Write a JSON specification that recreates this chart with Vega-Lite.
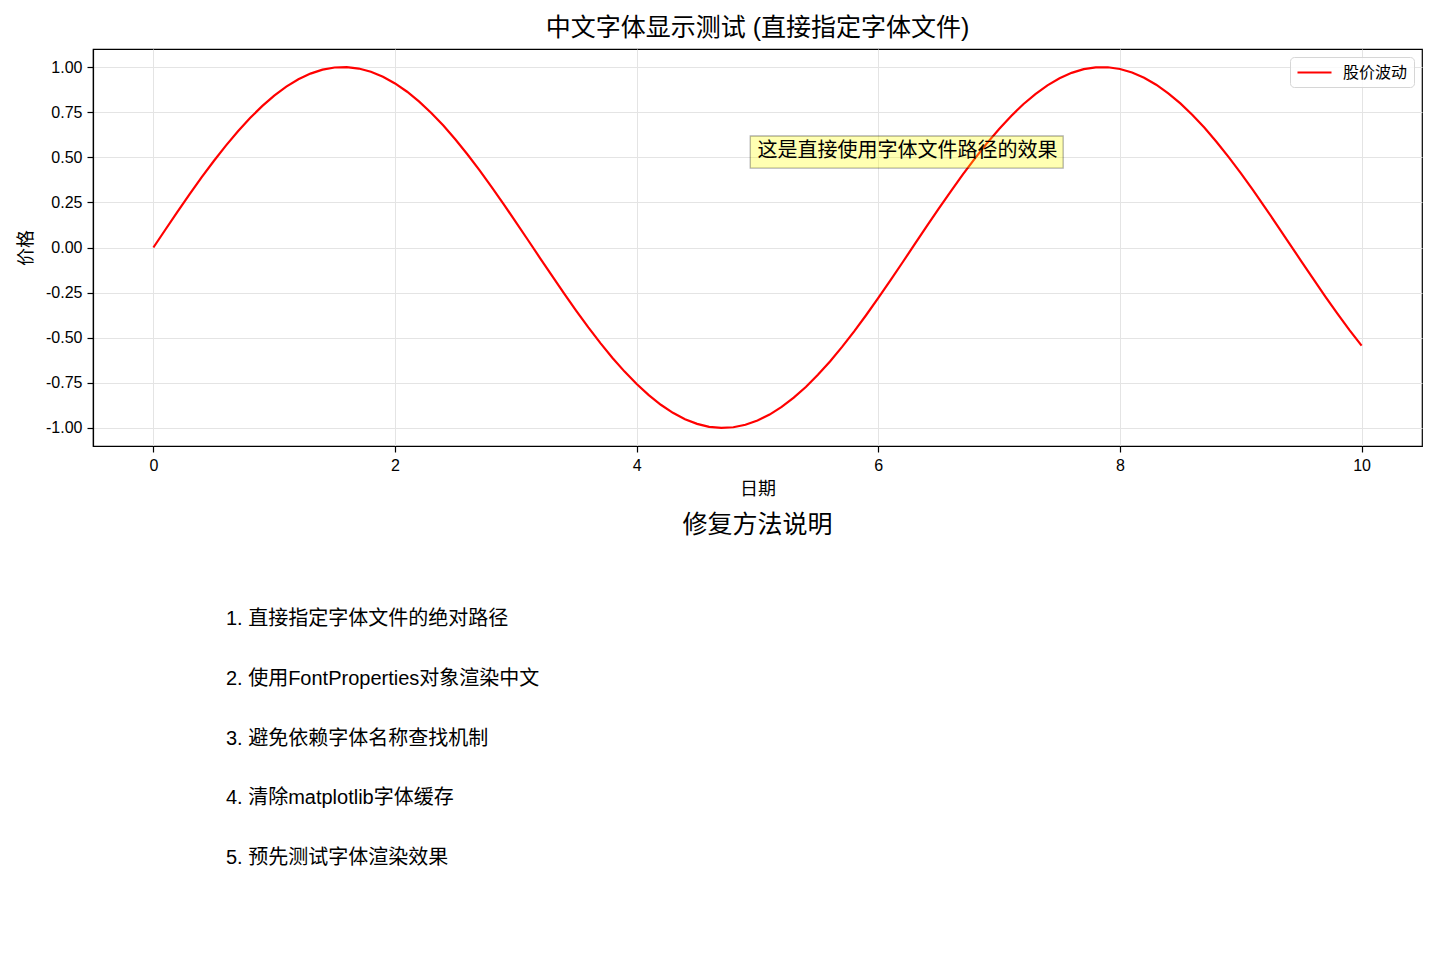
{
  "$schema": "https://vega.github.io/schema/vega-lite/v6.json",
  "background": "white",
  "padding": {"left": 16, "top": 15, "right": 5, "bottom": 5},
  "spacing": 14,
  "config": {
    "font": "Liberation Sans, Noto Sans CJK SC",
    "title": {"font": "Liberation Sans, Noto Sans CJK SC", "fontSize": 25, "fontWeight": "normal", "color": "black", "frame": "group", "anchor": "middle", "offset": 8},
    "axis": {"labelFont": "Liberation Sans, Noto Sans CJK SC", "titleFont": "Liberation Sans, Noto Sans CJK SC", "labelFontSize": 16, "labelColor": "black", "titleFontSize": 18, "titleFontWeight": "normal", "titleColor": "black", "tickColor": "black", "tickSize": 6, "tickWidth": 1.2, "labelPadding": 5, "domainColor": "black", "domainWidth": 1.2, "gridColor": "#e4e4e4", "gridWidth": 1, "titlePadding": 7},
    "axisY": {"titlePadding": 10},
    "legend": {"labelFont": "Liberation Sans, Noto Sans CJK SC", "labelFontSize": 16, "labelColor": "black"}
  },
  "datasets": {
    "wave": [
      {"x": 0.0, "y": 0.0, "s": "股价波动"},
      {"x": 0.1, "y": 0.0998, "s": "股价波动"},
      {"x": 0.2, "y": 0.1987, "s": "股价波动"},
      {"x": 0.3, "y": 0.2955, "s": "股价波动"},
      {"x": 0.4, "y": 0.3894, "s": "股价波动"},
      {"x": 0.5, "y": 0.4794, "s": "股价波动"},
      {"x": 0.6, "y": 0.5646, "s": "股价波动"},
      {"x": 0.7, "y": 0.6442, "s": "股价波动"},
      {"x": 0.8, "y": 0.7174, "s": "股价波动"},
      {"x": 0.9, "y": 0.7833, "s": "股价波动"},
      {"x": 1.0, "y": 0.8415, "s": "股价波动"},
      {"x": 1.1, "y": 0.8912, "s": "股价波动"},
      {"x": 1.2, "y": 0.9320, "s": "股价波动"},
      {"x": 1.3, "y": 0.9636, "s": "股价波动"},
      {"x": 1.4, "y": 0.9854, "s": "股价波动"},
      {"x": 1.5, "y": 0.9975, "s": "股价波动"},
      {"x": 1.6, "y": 0.9996, "s": "股价波动"},
      {"x": 1.7, "y": 0.9917, "s": "股价波动"},
      {"x": 1.8, "y": 0.9738, "s": "股价波动"},
      {"x": 1.9, "y": 0.9463, "s": "股价波动"},
      {"x": 2.0, "y": 0.9093, "s": "股价波动"},
      {"x": 2.1, "y": 0.8632, "s": "股价波动"},
      {"x": 2.2, "y": 0.8085, "s": "股价波动"},
      {"x": 2.3, "y": 0.7457, "s": "股价波动"},
      {"x": 2.4, "y": 0.6755, "s": "股价波动"},
      {"x": 2.5, "y": 0.5985, "s": "股价波动"},
      {"x": 2.6, "y": 0.5155, "s": "股价波动"},
      {"x": 2.7, "y": 0.4274, "s": "股价波动"},
      {"x": 2.8, "y": 0.3350, "s": "股价波动"},
      {"x": 2.9, "y": 0.2392, "s": "股价波动"},
      {"x": 3.0, "y": 0.1411, "s": "股价波动"},
      {"x": 3.1, "y": 0.0416, "s": "股价波动"},
      {"x": 3.2, "y": -0.0584, "s": "股价波动"},
      {"x": 3.3, "y": -0.1577, "s": "股价波动"},
      {"x": 3.4, "y": -0.2555, "s": "股价波动"},
      {"x": 3.5, "y": -0.3508, "s": "股价波动"},
      {"x": 3.6, "y": -0.4425, "s": "股价波动"},
      {"x": 3.7, "y": -0.5298, "s": "股价波动"},
      {"x": 3.8, "y": -0.6119, "s": "股价波动"},
      {"x": 3.9, "y": -0.6878, "s": "股价波动"},
      {"x": 4.0, "y": -0.7568, "s": "股价波动"},
      {"x": 4.1, "y": -0.8183, "s": "股价波动"},
      {"x": 4.2, "y": -0.8716, "s": "股价波动"},
      {"x": 4.3, "y": -0.9162, "s": "股价波动"},
      {"x": 4.4, "y": -0.9516, "s": "股价波动"},
      {"x": 4.5, "y": -0.9775, "s": "股价波动"},
      {"x": 4.6, "y": -0.9937, "s": "股价波动"},
      {"x": 4.7, "y": -0.9999, "s": "股价波动"},
      {"x": 4.8, "y": -0.9962, "s": "股价波动"},
      {"x": 4.9, "y": -0.9825, "s": "股价波动"},
      {"x": 5.0, "y": -0.9589, "s": "股价波动"},
      {"x": 5.1, "y": -0.9258, "s": "股价波动"},
      {"x": 5.2, "y": -0.8835, "s": "股价波动"},
      {"x": 5.3, "y": -0.8323, "s": "股价波动"},
      {"x": 5.4, "y": -0.7728, "s": "股价波动"},
      {"x": 5.5, "y": -0.7055, "s": "股价波动"},
      {"x": 5.6, "y": -0.6313, "s": "股价波动"},
      {"x": 5.7, "y": -0.5507, "s": "股价波动"},
      {"x": 5.8, "y": -0.4646, "s": "股价波动"},
      {"x": 5.9, "y": -0.3739, "s": "股价波动"},
      {"x": 6.0, "y": -0.2794, "s": "股价波动"},
      {"x": 6.1, "y": -0.1822, "s": "股价波动"},
      {"x": 6.2, "y": -0.0831, "s": "股价波动"},
      {"x": 6.3, "y": 0.0168, "s": "股价波动"},
      {"x": 6.4, "y": 0.1165, "s": "股价波动"},
      {"x": 6.5, "y": 0.2151, "s": "股价波动"},
      {"x": 6.6, "y": 0.3115, "s": "股价波动"},
      {"x": 6.7, "y": 0.4048, "s": "股价波动"},
      {"x": 6.8, "y": 0.4941, "s": "股价波动"},
      {"x": 6.9, "y": 0.5784, "s": "股价波动"},
      {"x": 7.0, "y": 0.6570, "s": "股价波动"},
      {"x": 7.1, "y": 0.7290, "s": "股价波动"},
      {"x": 7.2, "y": 0.7937, "s": "股价波动"},
      {"x": 7.3, "y": 0.8504, "s": "股价波动"},
      {"x": 7.4, "y": 0.8987, "s": "股价波动"},
      {"x": 7.5, "y": 0.9380, "s": "股价波动"},
      {"x": 7.6, "y": 0.9679, "s": "股价波动"},
      {"x": 7.7, "y": 0.9882, "s": "股价波动"},
      {"x": 7.8, "y": 0.9985, "s": "股价波动"},
      {"x": 7.9, "y": 0.9989, "s": "股价波动"},
      {"x": 8.0, "y": 0.9894, "s": "股价波动"},
      {"x": 8.1, "y": 0.9699, "s": "股价波动"},
      {"x": 8.2, "y": 0.9407, "s": "股价波动"},
      {"x": 8.3, "y": 0.9022, "s": "股价波动"},
      {"x": 8.4, "y": 0.8546, "s": "股价波动"},
      {"x": 8.5, "y": 0.7985, "s": "股价波动"},
      {"x": 8.6, "y": 0.7344, "s": "股价波动"},
      {"x": 8.7, "y": 0.6630, "s": "股价波动"},
      {"x": 8.8, "y": 0.5849, "s": "股价波动"},
      {"x": 8.9, "y": 0.5010, "s": "股价波动"},
      {"x": 9.0, "y": 0.4121, "s": "股价波动"},
      {"x": 9.1, "y": 0.3191, "s": "股价波动"},
      {"x": 9.2, "y": 0.2229, "s": "股价波动"},
      {"x": 9.3, "y": 0.1245, "s": "股价波动"},
      {"x": 9.4, "y": 0.0248, "s": "股价波动"},
      {"x": 9.5, "y": -0.0752, "s": "股价波动"},
      {"x": 9.6, "y": -0.1743, "s": "股价波动"},
      {"x": 9.7, "y": -0.2718, "s": "股价波动"},
      {"x": 9.8, "y": -0.3665, "s": "股价波动"},
      {"x": 9.9, "y": -0.4575, "s": "股价波动"},
      {"x": 10.0, "y": -0.5440, "s": "股价波动"}
    ],
    "note": [
      {"x": 5, "y": 0.5, "text": "这是直接使用字体文件路径的效果"}
    ],
    "steps": [
      {"x": 0.1, "y": 0.8, "text": "1. 直接指定字体文件的绝对路径"},
      {"x": 0.1, "y": 0.65, "text": "2. 使用FontProperties对象渲染中文"},
      {"x": 0.1, "y": 0.5, "text": "3. 避免依赖字体名称查找机制"},
      {"x": 0.1, "y": 0.35, "text": "4. 清除matplotlib字体缓存"},
      {"x": 0.1, "y": 0.2, "text": "5. 预先测试字体渲染效果"}
    ]
  },
  "vconcat": [
    {
      "title": {"text": "中文字体显示测试 (直接指定字体文件)"},
      "width": 1329,
      "height": 397,
      "view": {"stroke": "black", "strokeWidth": 1.2},
      "layer": [
        {
          "data": {"name": "wave"},
          "mark": {"type": "line", "strokeWidth": 2.2, "clip": true},
          "encoding": {
            "x": {"field": "x", "type": "quantitative", "scale": {"domain": [-0.5, 10.5], "nice": false, "zero": false},
                  "axis": {"title": "日期", "values": [0, 2, 4, 6, 8, 10], "grid": true, "format": "d"}},
            "y": {"field": "y", "type": "quantitative", "scale": {"domain": [-1.1, 1.1], "nice": false, "zero": false},
                  "axis": {"title": "价格", "values": [-1, -0.75, -0.5, -0.25, 0, 0.25, 0.5, 0.75, 1], "grid": true, "format": ".2f", "labelExpr": "replace(datum.label, '−', '-')"}},
            "color": {"field": "s", "type": "nominal", "scale": {"range": ["#ff0000"]},
                      "legend": {"title": null, "orient": "top-right", "offset": 8, "symbolType": "M-2.125,0H2.125", "symbolSize": 256, "symbolStrokeWidth": 2.2, "symbolOffset": 9, "labelOffset": 19, "padding": 6, "strokeColor": "#d6d6d6", "fillColor": "rgba(255,255,255,0.8)", "cornerRadius": 4}}
          }
        },
        {
          "data": {"name": "note"},
          "mark": {"type": "rect", "fill": "#ffff00", "fillOpacity": 0.3, "stroke": "#000000", "strokeOpacity": 0.3, "strokeWidth": 1.3},
          "encoding": {
            "x": {"datum": 4.94, "type": "quantitative"},
            "x2": {"datum": 7.53},
            "y": {"datum": 0.618, "type": "quantitative"},
            "y2": {"datum": 0.44}
          }
        },
        {
          "data": {"name": "note"},
          "mark": {"type": "text", "align": "left", "baseline": "alphabetic", "fontSize": 20, "color": "black", "font": "Liberation Sans, Noto Sans CJK SC"},
          "encoding": {
            "x": {"field": "x", "type": "quantitative"},
            "y": {"field": "y", "type": "quantitative"},
            "text": {"field": "text"}
          }
        }
      ]
    },
    {
      "title": {"text": "修复方法说明"},
      "width": 1329,
      "height": 397,
      "view": {"stroke": null},
      "data": {"name": "steps"},
      "mark": {"type": "text", "align": "left", "baseline": "alphabetic", "fontSize": 20, "color": "black", "font": "Liberation Sans, Noto Sans CJK SC"},
      "encoding": {
        "x": {"field": "x", "type": "quantitative", "scale": {"domain": [0, 1], "nice": false}, "axis": null},
        "y": {"field": "y", "type": "quantitative", "scale": {"domain": [0, 1], "nice": false}, "axis": null},
        "text": {"field": "text"}
      }
    }
  ]
}
